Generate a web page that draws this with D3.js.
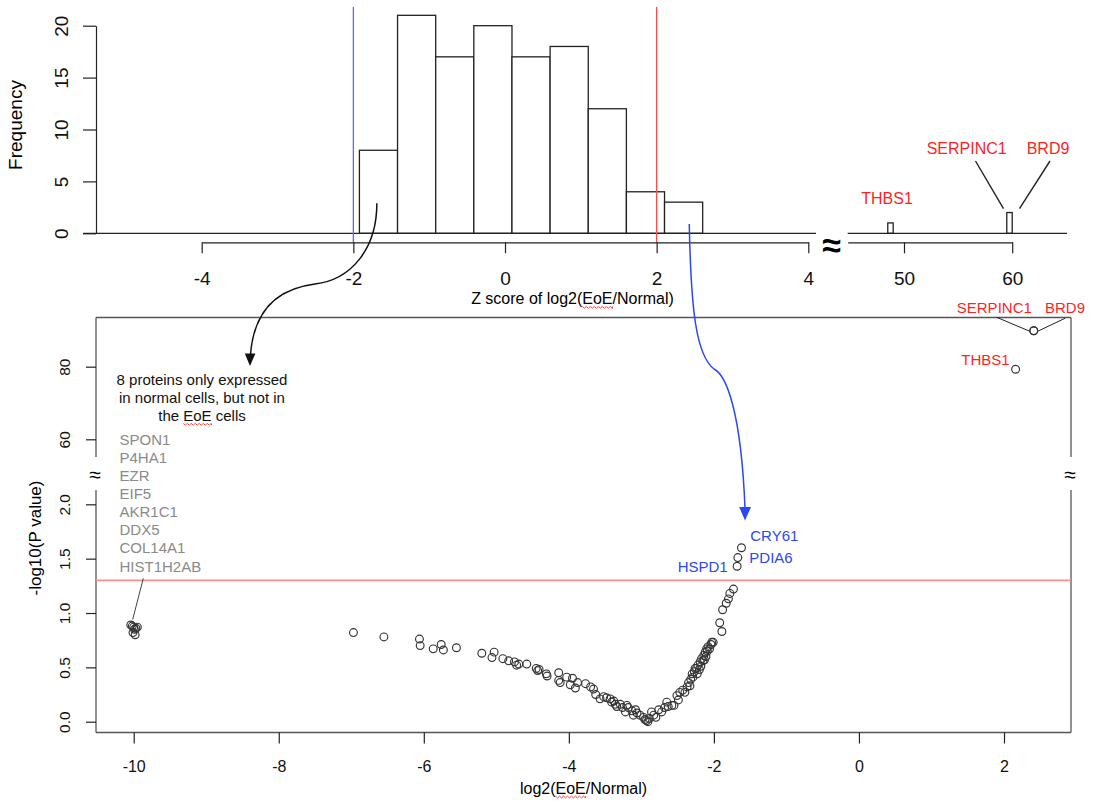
<!DOCTYPE html>
<html lang="en">
<head>
<meta charset="UTF-8">
<script src="https://d3js.org/d3.v7.min.js"></script>
<title>Z score histogram and volcano plot</title>
<style>
  body { margin: 0; background: #fff; }
  svg { display: block; font-family: "Liberation Sans", Arial, Helvetica, sans-serif; }
</style>
</head>
<body>
<svg width="1110" height="803"></svg>
<script>
// histogram of Z scores
const binStart = -1.92
const binWidth = 0.503
const zCounts = [8, 21, 17, 20, 17, 18, 12, 4, 3]
const outlierBinStarts = [48.5, 59.5]
const outlierBinWidth = 0.5
const outlierCounts = [1, 2]
const zTicksLeft = [-4, -2, 0, 2, 4]
const zTicksRight = [50, 60]
const freqTicks = [0, 5, 10, 15, 20]

// volcano: log2(EoE/Normal) and -log10(P)
const fc = [
  -10.02, -10.0, -9.97, -10.04, -9.99, -9.95, -10.01, -9.98,
  -6.97, -6.55, -6.06, -6.05, -5.87, -5.76, -5.73, -5.55, -5.20, -5.06,
  -5.03, -4.91, -4.83, -4.75, -4.72, -4.69, -4.58, -4.45, -4.43, -4.41,
  -4.31, -4.30, -4.14, -4.14, -4.12, -4.03, -3.98, -3.95, -3.91, -3.88,
  -3.77, -3.70, -3.66, -3.63, -3.57, -3.52, -3.48, -3.43, -3.41, -3.38,
  -3.36, -3.34, -3.29, -3.26, -3.22, -3.20, -3.18, -3.13, -3.11, -3.08,
  -3.06, -3.02, -2.97, -2.95, -2.93, -2.91, -2.89, -2.86, -2.83, -2.80,
  -2.76, -2.72, -2.68, -2.65, -2.63, -2.58, -2.55, -2.51, -2.49, -2.47,
  -2.43, -2.40, -2.37, -2.35, -2.33, -2.32, -2.30, -2.29, -2.27, -2.26,
  -2.24, -2.23, -2.22, -2.20, -2.19, -2.18, -2.17, -2.15, -2.14, -2.13,
  -2.12, -2.11, -2.10, -2.09, -2.08, -2.06, -2.04, -2.03, -2.01, -1.92,
  -1.89, -1.88, -1.83, -1.80, -1.78, -1.73, -1.68, -1.67, -1.62
]
const negLogP = [
  0.88, 0.87, 0.86, 0.89, 0.85, 0.87, 0.82, 0.80,
  0.82, 0.78, 0.76, 0.70, 0.67, 0.71, 0.66, 0.68, 0.63, 0.59,
  0.64, 0.58, 0.56, 0.55, 0.52, 0.53, 0.53, 0.49, 0.47, 0.48,
  0.44, 0.42, 0.45, 0.38, 0.36, 0.41, 0.34, 0.40, 0.31, 0.36,
  0.35, 0.32, 0.30, 0.25, 0.21, 0.23, 0.22, 0.21, 0.18, 0.19,
  0.16, 0.14, 0.16, 0.13, 0.09, 0.15, 0.13, 0.10, 0.06, 0.11,
  0.08, 0.06, 0.04, 0.02, 0.01, 0.00, 0.03, 0.09, 0.06, 0.04,
  0.11, 0.09, 0.13, 0.18, 0.14, 0.15, 0.15, 0.24, 0.20, 0.27,
  0.29, 0.27, 0.32, 0.36, 0.33, 0.39, 0.44, 0.41, 0.46, 0.49,
  0.49, 0.44, 0.52, 0.48, 0.55, 0.51, 0.58, 0.56, 0.61, 0.57,
  0.64, 0.60, 0.67, 0.65, 0.69, 0.67, 0.71, 0.73, 0.73, 0.91,
  0.83, 1.03, 1.09, 1.13, 1.18, 1.22, 1.43, 1.51, 1.60
]
const topFc = [2.41, 2.41, 2.16]
const topP = [89.9, 89.9, 79.3]
const normalOnly = ['SPON1', 'P4HA1', 'EZR', 'EIF5', 'AKR1C1', 'DDX5', 'COL14A1', 'HIST1H2AB']
const fcTicks = [-10, -8, -6, -4, -2, 0, 2]
const pTicksLow = [0, 0.5, 1, 1.5, 2]
const pTicksHigh = [60, 80]
const pCutoff = 1.3

const RED = '#ff1f1f'
const BLUE = '#2b47f7'
const GRAY_TEXT = '#8a8a8a'
const INK = '#222'

const svg = d3.select('svg')
const plain = d => String(d)  // hyphen minus, like R

// ---------- scales
const xZ = d3.scaleLinear().domain([-4, 4]).range([201.7, 808.3])
const xZr = d3.scaleLinear().domain([50, 60]).range([904, 1012.2])
const yF = d3.scaleLinear().domain([0, 20]).range([233.3, 25.7])

const xV = d3.scaleLinear().domain([-10, 2]).range([133.7, 1004])
const yLo = d3.scaleLinear().domain([0, 2]).range([721.7, 504.3])
const yHi = d3.scaleLinear().domain([60, 80]).range([439.3, 366.7])
const yV = v => v > 20 ? yHi(v) : yLo(v)

const box = { l: 96, r: 1071, t: 317.5, b: 732.5, gapTop: 457, gapBot: 490 }

function styleAxis(g, size) {
  g.attr('font-size', size).attr('font-family', null)
  g.selectAll('line').attr('stroke', INK).attr('stroke-width', 1.2)
  g.selectAll('path').attr('stroke', INK).attr('stroke-width', 1.2)
  g.selectAll('text').attr('fill', '#111')
}

function squiggle(textSel, from, to) {
  const node = textSel.node()
  const x0 = node.getStartPositionOfChar(from).x
  const x1 = node.getEndPositionOfChar(to - 1).x
  const y = node.getStartPositionOfChar(from).y + 2.5
  let d = `M${x0},${y}`
  for (let x = x0, k = 0; x < x1; x += 2, k++) d += `L${Math.min(x + 2, x1)},${y + (k % 2 ? 0 : 1.8)}`
  svg.append('path').attr('d', d).attr('fill', 'none').attr('stroke', '#e33').attr('stroke-width', 0.9)
}

// ---------- histogram
const hist = svg.append('g')

hist.selectAll('rect.bin')
  .data(zCounts)
  .join('rect')
  .attr('x', (d, i) => xZ(binStart + i * binWidth))
  .attr('width', (d, i) => xZ(binStart + (i + 1) * binWidth) - xZ(binStart + i * binWidth))
  .attr('y', d => yF(d))
  .attr('height', d => yF(0) - yF(d))
  .attr('fill', '#fff').attr('stroke', INK).attr('stroke-width', 1.3)

hist.selectAll('rect.out')
  .data(outlierCounts)
  .join('rect')
  .attr('x', (d, i) => xZr(outlierBinStarts[i]))
  .attr('width', (d, i) => xZr(outlierBinStarts[i] + outlierBinWidth) - xZr(outlierBinStarts[i]))
  .attr('y', d => yF(d))
  .attr('height', d => yF(0) - yF(d))
  .attr('fill', '#fff').attr('stroke', INK).attr('stroke-width', 1.3)

// zero lines on both sides of the break
hist.append('line').attr('x1', 83.3).attr('x2', 816).attr('y1', yF(0)).attr('y2', yF(0))
  .attr('stroke', INK).attr('stroke-width', 1.3)
hist.append('line').attr('x1', 847.7).attr('x2', 1067).attr('y1', yF(0)).attr('y2', yF(0))
  .attr('stroke', INK).attr('stroke-width', 1.3)

// cut-off lines at Z = -2 and 2
hist.append('line').attr('x1', xZ(-2)).attr('x2', xZ(-2)).attr('y1', 7).attr('y2', 242)
  .attr('stroke', '#5a6cff').attr('stroke-width', 1.3)
hist.append('line').attr('x1', xZ(2)).attr('x2', xZ(2)).attr('y1', 7).attr('y2', 242)
  .attr('stroke', '#ff4a4a').attr('stroke-width', 1.3)

const gy = hist.append('g').attr('transform', 'translate(96,0)')
  .call(d3.axisLeft(yF).tickValues(freqTicks).tickFormat(plain).tickSize(13).tickSizeOuter(0))
styleAxis(gy, 19)
gy.selectAll('text').attr('x', 0).attr('dy', '0.35em').attr('text-anchor', 'middle')
  .attr('transform', 'translate(-34.3,0) rotate(-90)')

const gx = hist.append('g').attr('transform', 'translate(0,242.3)')
  .call(d3.axisBottom(xZ).tickValues(zTicksLeft).tickFormat(plain).tickSize(11).tickSizeOuter(0))
styleAxis(gx, 19)
gx.selectAll('text').attr('y', 36).attr('dy', '0.35em')

const xZrAxis = xZr.copy().domain([xZr.invert(847.7), 60]).range([847.7, 1012.2])
const gxr = hist.append('g').attr('transform', 'translate(0,242.3)')
  .call(d3.axisBottom(xZrAxis).tickValues(zTicksRight).tickFormat(plain).tickSize(11).tickSizeOuter(0))
styleAxis(gxr, 19)
gxr.selectAll('text').attr('y', 36).attr('dy', '0.35em')

hist.append('text').attr('x', 831.7).attr('y', 257).attr('text-anchor', 'middle')
  .attr('font-size', 34).attr('font-weight', 'bold').text('≈')

hist.append('text').attr('x', 15).attr('y', 125).attr('dy', '0.35em').attr('text-anchor', 'middle')
  .attr('font-size', 19).attr('transform', 'rotate(-90,15,125)').text('Frequency')

const zTitle = hist.append('text').attr('x', 572.5).attr('y', 304).attr('text-anchor', 'middle')
  .attr('font-size', 16).text('Z score of log2(EoE/Normal)')
squiggle(zTitle, 16, 19)

// outlier labels
hist.append('text').attr('x', 887).attr('y', 203.5).attr('text-anchor', 'middle')
  .attr('font-size', 16).attr('fill', RED).text('THBS1')
hist.append('text').attr('x', 966.7).attr('y', 154).attr('text-anchor', 'middle')
  .attr('font-size', 16).attr('fill', RED).text('SERPINC1')
hist.append('text').attr('x', 1048).attr('y', 154).attr('text-anchor', 'middle')
  .attr('font-size', 16).attr('fill', RED).text('BRD9')
const barTop = [xZr(59.75), yF(2)]
hist.append('line').attr('x1', 975.5).attr('y1', 161).attr('x2', barTop[0] - 6).attr('y2', barTop[1] - 4)
  .attr('stroke', INK).attr('stroke-width', 1.4)
hist.append('line').attr('x1', 1050).attr('y1', 161).attr('x2', barTop[0] + 10).attr('y2', barTop[1] - 4)
  .attr('stroke', INK).attr('stroke-width', 1.4)

// ---------- volcano frame
const frame = svg.append('g').attr('stroke', '#555').attr('stroke-width', 1.3)
frame.append('line').attr('x1', box.l).attr('x2', box.r).attr('y1', box.t).attr('y2', box.t)
frame.append('line').attr('x1', box.l).attr('x2', box.r).attr('y1', box.b).attr('y2', box.b)
;[box.l, box.r].forEach(x => {
  frame.append('line').attr('x1', x).attr('x2', x).attr('y1', box.t).attr('y2', box.gapTop)
  frame.append('line').attr('x1', x).attr('x2', x).attr('y1', box.gapBot).attr('y2', box.b)
  svg.append('text').attr('x', x - 1).attr('y', 481.5).attr('text-anchor', 'middle')
    .attr('font-size', 21).text('≈')
})

svg.append('line').attr('x1', box.l).attr('x2', box.r).attr('y1', yLo(pCutoff)).attr('y2', yLo(pCutoff))
  .attr('stroke', '#ff8c8c').attr('stroke-width', 1.6)

const vx = svg.append('g').attr('transform', `translate(0,${box.b})`)
  .call(d3.axisBottom(xV).tickValues(fcTicks).tickFormat(plain).tickSize(11))
styleAxis(vx, 16)
vx.select('.domain').remove()
vx.selectAll('text').attr('y', 34.2).attr('dy', '0.35em')

const vyLo = svg.append('g').attr('transform', `translate(${box.l},0)`)
  .call(d3.axisLeft(yLo).tickValues(pTicksLow).tickFormat(d => d.toFixed(1)).tickSize(10))
const vyHi = svg.append('g').attr('transform', `translate(${box.l},0)`)
  .call(d3.axisLeft(yHi).tickValues(pTicksHigh).tickFormat(plain).tickSize(10))
;[vyLo, vyHi].forEach(g => {
  styleAxis(g, 15.5)
  g.select('.domain').remove()
  g.selectAll('text').attr('x', 0).attr('dy', '0.35em').attr('text-anchor', 'middle')
    .attr('transform', 'translate(-31,0) rotate(-90)')
})

svg.append('text').attr('x', 35).attr('y', 538).attr('dy', '0.35em').attr('text-anchor', 'middle')
  .attr('font-size', 17).attr('transform', 'rotate(-90,35,538)').text('-log10(P value)')

const vTitle = svg.append('text').attr('x', (box.l + box.r) / 2).attr('y', 793.6).attr('text-anchor', 'middle')
  .attr('font-size', 16).text('log2(EoE/Normal)')
squiggle(vTitle, 5, 8)

// ---------- volcano points
const pts = d3.zip(fc, negLogP).concat(d3.zip(topFc, topP))
svg.append('g').selectAll('circle')
  .data(pts)
  .join('circle')
  .attr('cx', d => xV(d[0]))
  .attr('cy', d => yV(d[1]))
  .attr('r', 3.9)
  .attr('fill', 'none').attr('stroke', '#333').attr('stroke-width', 1.15)

// top hits labels
const serp = [xV(topFc[0]), yV(topP[0])]
const thbs = [xV(topFc[2]), yV(topP[2])]
svg.append('text').attr('x', 994.3).attr('y', 312.5).attr('text-anchor', 'middle')
  .attr('font-size', 15).attr('fill', RED).text('SERPINC1')
svg.append('text').attr('x', 1065).attr('y', 312.5).attr('text-anchor', 'middle')
  .attr('font-size', 15).attr('fill', RED).text('BRD9')
svg.append('text').attr('x', thbs[0] - 6).attr('y', 364.5).attr('text-anchor', 'end')
  .attr('font-size', 15).attr('fill', RED).text('THBS1')
svg.append('line').attr('x1', 996.7).attr('y1', 317.3).attr('x2', serp[0] - 4).attr('y2', serp[1] + 0.5)
  .attr('stroke', INK).attr('stroke-width', 1)
svg.append('line').attr('x1', 1065).attr('y1', 318.3).attr('x2', serp[0] + 4).attr('y2', serp[1] + 0.5)
  .attr('stroke', INK).attr('stroke-width', 1)

// significant low-side labels
svg.append('text').attr('x', 774.3).attr('y', 541.2).attr('text-anchor', 'middle')
  .attr('font-size', 15).attr('fill', BLUE).text('CRY61')
svg.append('text').attr('x', 771).attr('y', 563).attr('text-anchor', 'middle')
  .attr('font-size', 15).attr('fill', BLUE).text('PDIA6')
svg.append('text').attr('x', 702.7).attr('y', 572).attr('text-anchor', 'middle')
  .attr('font-size', 15).attr('fill', BLUE).text('HSPD1')

// proteins only in normal cells
const note = ['8 proteins only expressed', 'in normal cells, but not in', 'the EoE cells']
const noteText = note.map((t, i) => svg.append('text')
  .attr('x', 202).attr('y', 384.5 + i * 18.2).attr('text-anchor', 'middle')
  .attr('font-size', 15).attr('fill', '#111').text(t))
squiggle(noteText[2], 4, 7)

svg.append('g').selectAll('text')
  .data(normalOnly)
  .join('text')
  .attr('x', 119.5)
  .attr('y', (d, i) => 444.5 + i * 18.15)
  .attr('font-size', 15).attr('fill', GRAY_TEXT)
  .text(d => d)

svg.append('line').attr('x1', 143.3).attr('y1', 578.3).attr('x2', xV(-10) - 1).attr('y2', yLo(0.94))
  .attr('stroke', '#444').attr('stroke-width', 1)

// ---------- arrows linking the two panels
const blackStart = [xZ(-1.69), yF(2.9)]
svg.append('path')
  .attr('d', `M${blackStart[0]},${blackStart[1]} C377,250 350,280 315,284 C283,288 254,305 250.5,355`)
  .attr('fill', 'none').attr('stroke', '#111').attr('stroke-width', 1.5)
svg.append('path').attr('d', 'M250,366 L244.8,353.5 L255.4,353.5 Z').attr('fill', '#111')

const blueStart = [xZ(2.43), yF(0.9)]
svg.append('path')
  .attr('d', `M${blueStart[0]},${blueStart[1]} C691,310 696,355 714,369 C726,375 741,410 745,508`)
  .attr('fill', 'none').attr('stroke', BLUE).attr('stroke-width', 1.5)
svg.append('path').attr('d', 'M745,520.5 L739.2,507 L751,507 Z').attr('fill', BLUE)
</script>
</body>
</html>
